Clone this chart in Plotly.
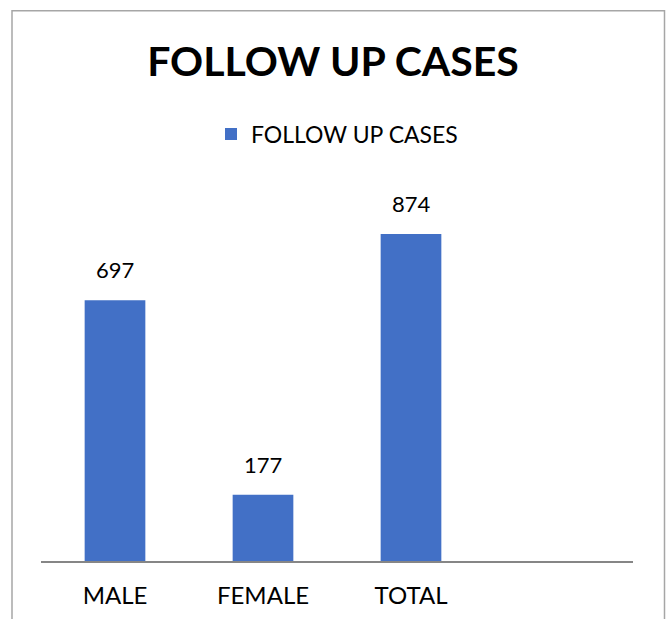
import plotly.graph_objects as go

categories = ["MALE", "FEMALE", "TOTAL"]
values = [697, 177, 874]
series_name = "FOLLOW UP CASES"
title_text = "FOLLOW UP CASES"

FONT = "Lato, 'Liberation Sans', sans-serif"

fig = go.Figure()
fig.add_trace(go.Bar(
    x=categories, y=values, name=series_name,
    marker=dict(color="#4270C6", line=dict(width=0)),
    width=0.41,
    showlegend=True,
))

for c, v in zip(categories, values):
    fig.add_annotation(x=c, y=v, text=str(v), showarrow=False,
                       yanchor="bottom", yshift=15,
                       font=dict(family=FONT, size=22, color="#000000"))

fig.update_layout(
    width=666, height=619,
    margin=dict(l=41, r=33, t=187, b=58, autoexpand=False),
    paper_bgcolor="white", plot_bgcolor="white",
    title=dict(text="<b>" + title_text + "</b>", x=0.5, xanchor="center",
               y=1 - 62/619, yanchor="middle",
               font=dict(family=FONT, size=41, color="#000000")),
    showlegend=True,
    legend=dict(orientation="h", x=0.5, xanchor="center", y=(560.5-134)/373.5,
                yanchor="middle", font=dict(family=FONT, size=23, color="#000000"),
                itemwidth=30),
    xaxis=dict(range=[-0.5, 3.5], showline=True, linecolor="#868686", linewidth=2,
               ticks="", showgrid=False, ticklabelstandoff=12, automargin=False,
               tickfont=dict(family=FONT, size=24, color="#000000")),
    yaxis=dict(range=[0, 1000], showgrid=False, showticklabels=False, zeroline=False,
               showline=False, ticks="", automargin=False),
)

fig.add_shape(type="rect", xref="paper", yref="paper",
              x0=(12-41)/592, x1=(664.5-41)/592, y0=-0.3, y1=(560.5-11)/373.5,
              line=dict(color="#A6A6A6", width=1.5), fillcolor="rgba(0,0,0,0)", layer="below")

fig.write_html("out.html", config={"displayModeBar": False},
               post_script="document.body.style.margin='0';document.body.style.padding='0';")
